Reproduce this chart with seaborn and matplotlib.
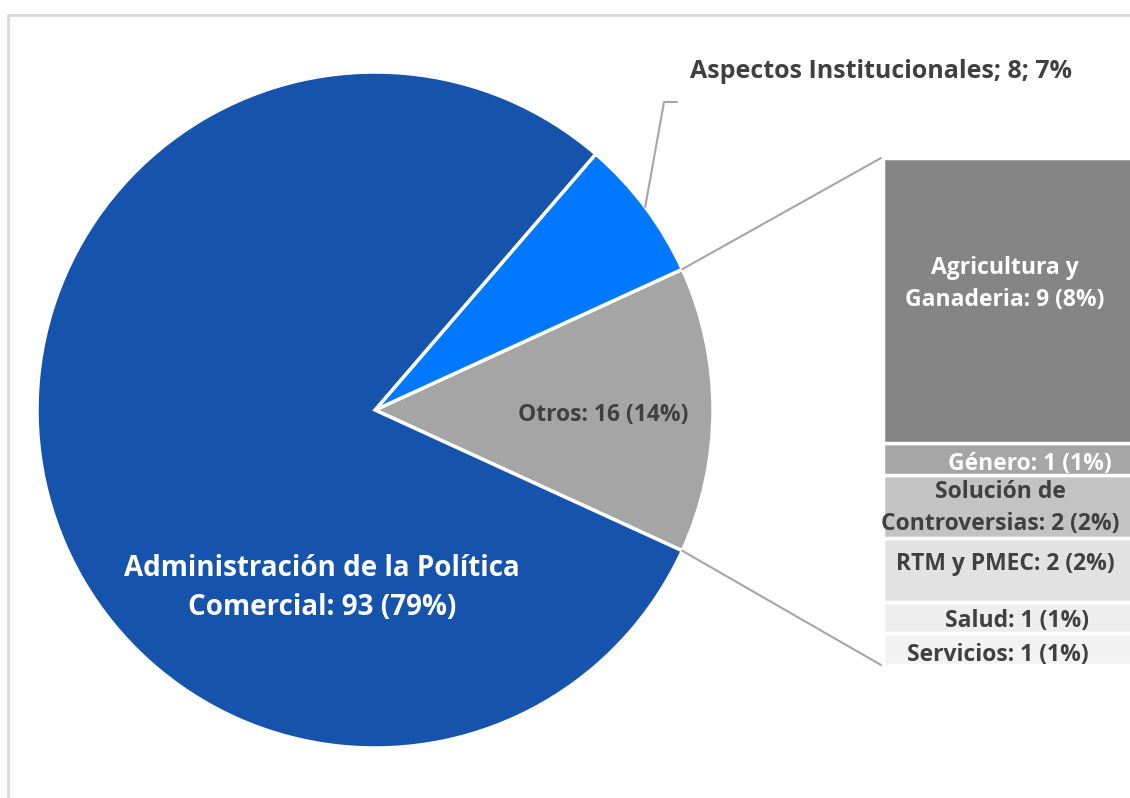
import matplotlib
matplotlib.use("Agg")
import matplotlib.pyplot as plt
import seaborn as sns
from matplotlib.patches import Rectangle
import numpy as np

# pie data
pie_labels = ["Otros", "Aspectos Institucionales", "Administración de la Política Comercial"]
pie_values = [16, 8, 93]
pie_colors = ["#A5A5A5", "#0078FF", "#1553AD"]

# breakdown of "Otros" (bottom to top)
bar_labels = ["Servicios", "Salud", "RTM y PMEC", "Solución de Controversias", "Género", "Agricultura y Ganaderia"]
bar_values = [1, 1, 2, 2, 1, 9]
bar_pcts = [1, 1, 2, 2, 1, 8]
bar_colors = ["#F2F2F2", "#EEEEEE", "#E2E2E2", "#C3C3C3", "#A6A6A6", "#858585"]

sns.set_theme(style="white")
plt.rcParams['font.family'] = ['Open Sans', 'DejaVu Sans']

W, H = 1130, 798
fig = plt.figure(figsize=(W / 100, H / 100), dpi=100)
ax = fig.add_axes([0, 0, 1, 1])

def Y(y):
    return H - y

# chart frame
fig.patches.append(Rectangle((8 / W, -0.1), 1.2, (H - 15) / H + 0.1, transform=fig.transFigure,
                             fill=False, edgecolor="#D9D9D9", linewidth=2))

# pie
cx, cy, r = 375, Y(410), 338
start = -pie_values[0] / sum(pie_values) * 360 / 2
wedges, _ = ax.pie(pie_values, colors=pie_colors, startangle=start, counterclock=True,
                   center=(cx, cy), radius=r, frame=True,
                   wedgeprops=dict(edgecolor="white", linewidth=2.5))
ax.set_xlim(0, W)
ax.set_ylim(0, H)
ax.set_aspect("equal")
ax.axis("off")

# stacked bar for Otros
bar_left, bar_right = 883, 1132
bar_top, bar_bottom = Y(158), Y(665)
unit = (bar_top - bar_bottom) / sum(bar_values)
heights = [v * unit for v in bar_values]
bottoms = bar_bottom + np.concatenate([[0], np.cumsum(heights)[:-1]])
ax.bar([(bar_left + bar_right) / 2] * len(bar_values), heights, bottom=bottoms,
       width=bar_right - bar_left, color=bar_colors, edgecolor="white", linewidth=2.5)

# connector lines from Otros wedge to bar
otros = wedges[0]
for ang, by in [(otros.theta2, bar_top), (otros.theta1, bar_bottom)]:
    px = cx + r * np.cos(np.radians(ang))
    py_ = cy + r * np.sin(np.radians(ang))
    ax.plot([px, bar_left - 2], [py_, by], color="#A6A6A6", linewidth=1.5)

# leader line for Aspectos Institucionales
asp = wedges[1]
mid = np.radians((asp.theta1 + asp.theta2) / 2)
lx0, ly0 = cx + r * np.cos(mid), cy + r * np.sin(mid)
ax.plot([lx0, 664, 677], [ly0, Y(102), Y(102)], color="#A6A6A6", linewidth=1.5)

dark = "#404040"
ax.text(881, Y(71), f"{pie_labels[1]}; {pie_values[1]}; {round(pie_values[1] / sum(pie_values) * 100)}%",
        ha="center", va="center", fontsize=18, fontweight="bold", color=dark)
ax.text(322, Y(588), "Administración de la Política\nComercial: 93 (79%)",
        ha="center", va="center", fontsize=20, fontweight="bold", color="white", linespacing=1.45)
ax.text(603, Y(415), f"Otros: {pie_values[0]} (14%)", ha="center", va="center",
        fontsize=16.5, fontweight="bold", color=dark)

# bar labels
bar_text = [
    (998, 655, "Servicios: 1 (1%)", dark),
    (1017, 621, "Salud: 1 (1%)", dark),
    (1005, 564, "RTM y PMEC: 2 (2%)", dark),
    (1000, 508, "Solución de\nControversias: 2 (2%)", dark),
    (1030, 464, "Género: 1 (1%)", "white"),
    (1005, 284, "Agricultura y\nGanaderia: 9 (8%)", "white"),
]
for x, y, t, c in bar_text:
    ax.text(x, Y(y), t, ha="center", va="center", fontsize=16.5, fontweight="bold",
            color=c, linespacing=1.4)

fig.savefig("out.png", dpi=100)
